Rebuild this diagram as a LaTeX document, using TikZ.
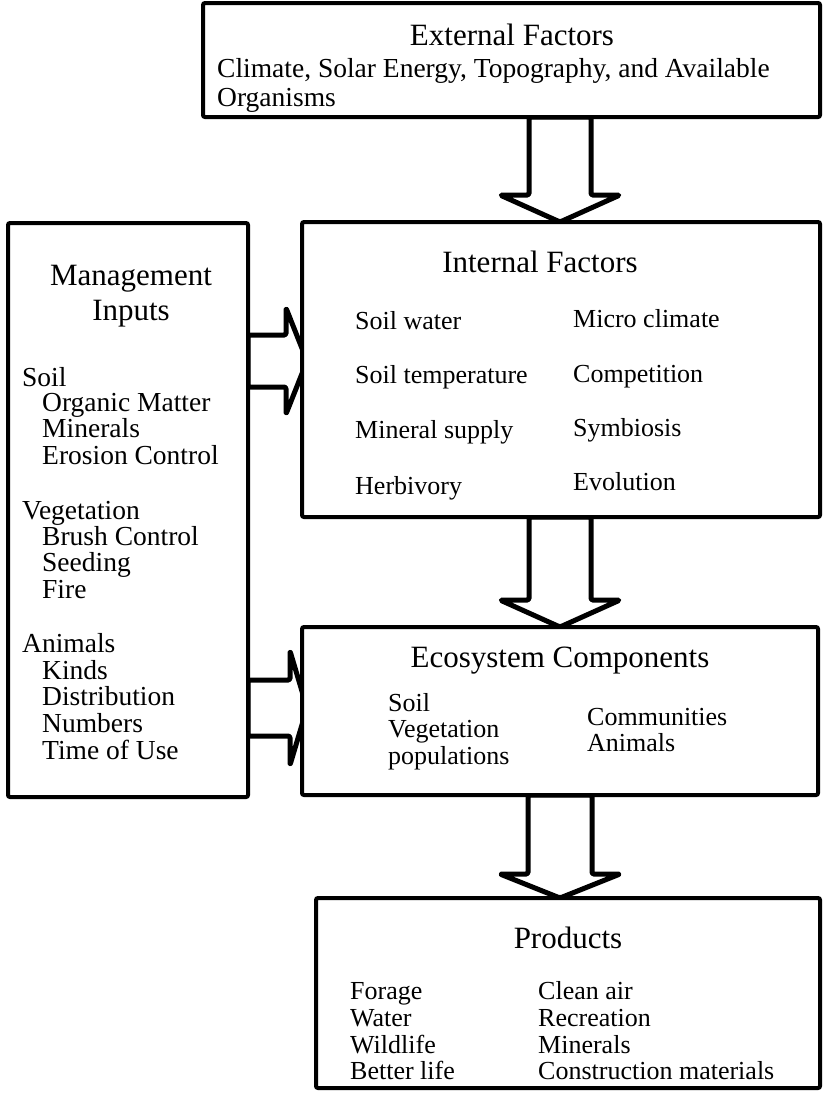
\documentclass[tikz,border=0pt]{standalone}
\usepackage{fontspec}
\setmainfont{Liberation Serif}
\usetikzlibrary{calc}
\pgfdeclarelayer{bg}
\pgfsetlayers{bg,main}

\tikzset{
  box/.style={draw, fill=white, line width=4pt, rounded corners=2pt,
    inner sep=0pt, outer sep=0pt, anchor=north west},
  title/.style={font=\fontsize{31}{31}\selectfont, inner sep=0pt, anchor=base},
  item/.style={font=\fontsize{26}{26}\selectfont, inner sep=0pt, anchor=base west},
  bigitem/.style={item, font=\fontsize{27.5}{27.5}\selectfont},
  blockarrow/.style={draw, fill=white, line width=5pt, line join=round, rounded corners=1.5pt}
}

\begin{document}
\begin{tikzpicture}[x=1pt,y=-1pt]
\useasboundingbox (0,0) rectangle (823,1093);

% boxes
\node[box, minimum width=617pt, minimum height=114pt] (ext) at (203,3) {};
\node[box, minimum width=518pt, minimum height=295pt] (int) at (302,222) {};
\node[box, minimum width=240pt, minimum height=574pt] (mgmt) at (8,223) {};
\node[box, minimum width=516pt, minimum height=168pt] (eco) at (302,627) {};
\node[box, minimum width=504pt, minimum height=190pt] (prod) at (316,898) {};

% reference lines for the arrows
\coordinate (ax) at (560,0);
\coordinate (ay1) at (0,361);
\coordinate (ay2) at (0,708);

\begin{pgfonlayer}{bg}
% downward block arrows
\draw[blockarrow] let \p1=(ext.south -| ax), \p2=(int.north -| ax) in
  (\x1-31pt,\y1) -- (\x1-31pt,\y2+27pt) -- (\x1-60pt,\y2+27pt) -- (\x2,\y2)
  -- (\x1+60pt,\y2+27pt) -- (\x1+31pt,\y2+27pt) -- (\x1+31pt,\y1) -- cycle;
\draw[blockarrow] let \p1=(int.south -| ax), \p2=(eco.north -| ax) in
  (\x1-31pt,\y1) -- (\x1-31pt,\y2+27pt) -- (\x1-60pt,\y2+27pt) -- (\x2,\y2)
  -- (\x1+60pt,\y2+27pt) -- (\x1+31pt,\y2+27pt) -- (\x1+31pt,\y1) -- cycle;
\draw[blockarrow] let \p1=(eco.south -| ax), \p2=(prod.north -| ax) in
  (\x1-32pt,\y1) -- (\x1-32pt,\y2+24pt) -- (\x1-60pt,\y2+24pt) -- (\x2,\y2)
  -- (\x1+60pt,\y2+24pt) -- (\x1+32pt,\y2+24pt) -- (\x1+32pt,\y1) -- cycle;
% rightward block arrows
\draw[blockarrow] let \p1=(mgmt.east |- ay1), \p2=(int.west |- ay1) in
  (\x1,\y1+26pt) -- (\x2-16pt,\y1+26pt) -- (\x2-16pt,\y1+53pt) -- (\x2+5pt,\y1)
  -- (\x2-16pt,\y1-53pt) -- (\x2-16pt,\y1-26pt) -- (\x1,\y1-26pt) -- cycle;
\draw[blockarrow] let \p1=(mgmt.east |- ay2), \p2=(eco.west |- ay2) in
  (\x1,\y1+28pt) -- (\x2-12pt,\y1+28pt) -- (\x2-12pt,\y1+57pt) -- (\x2+5pt,\y1)
  -- (\x2-12pt,\y1-57pt) -- (\x2-12pt,\y1-28pt) -- (\x1,\y1-28pt) -- cycle;
\end{pgfonlayer}

% External Factors
\node[title] (extT) at (512,45) {External Factors};
\node[bigitem] (ext1) at (217,77) {Climate, Solar Energy, Topography, and Available};
\node[bigitem] (ext2) at (217,106) {Organisms};

% Internal Factors
\node[title] (intT) at (540,272) {Internal Factors};
\node[item] (i1) at (355,329) {Soil water};
\node[item] (i2) at (355,383) {Soil temperature};
\node[item] (i3) at (355,438) {Mineral supply};
\node[item] (i4) at (355,494) {Herbivory};
\node[item] (i5) at (573,327) {Micro climate};
\node[item] (i6) at (573,382) {Competition};
\node[item] (i7) at (573,436) {Symbiosis};
\node[item] (i8) at (573,490) {Evolution};

% Management Inputs
\node[title] (mT1) at (131,285) {Management};
\node[title] (mT2) at (131,320) {Inputs};
\node[bigitem] (m1) at (22,386) {Soil};
\node[bigitem] (m2) at (42,411) {Organic Matter};
\node[bigitem] (m3) at (42,437) {Minerals};
\node[bigitem] (m4) at (42,464) {Erosion Control};
\node[bigitem] (m5) at (22,519) {Vegetation};
\node[bigitem] (m6) at (42,545) {Brush Control};
\node[bigitem] (m7) at (42,571) {Seeding};
\node[bigitem] (m8) at (42,598) {Fire};
\node[bigitem] (m9) at (22,652) {Animals};
\node[bigitem] (m10) at (42,679) {Kinds};
\node[bigitem] (m11) at (42,705) {Distribution};
\node[bigitem] (m12) at (42,732) {Numbers};
\node[bigitem] (m13) at (42,759) {Time of Use};

% Ecosystem Components
\node[title] (ecoT) at (560,667) {Ecosystem Components};
\node[item] (e1) at (388,711) {Soil};
\node[item] (e2) at (388,737) {Vegetation};
\node[item] (e3) at (388,764) {populations};
\node[item] (e4) at (587,725) {Communities};
\node[item] (e5) at (587,751) {Animals};

% Products
\node[title] (prodT) at (568,948) {Products};
\node[item] (p1) at (350,999) {Forage};
\node[item] (p2) at (350,1026) {Water};
\node[item] (p3) at (350,1053) {Wildlife};
\node[item] (p4) at (350,1079) {Better life};
\node[item] (p5) at (538,999) {Clean air};
\node[item] (p6) at (538,1026) {Recreation};
\node[item] (p7) at (538,1053) {Minerals};
\node[item] (p8) at (538,1079) {Construction materials};
\end{tikzpicture}
\end{document}
